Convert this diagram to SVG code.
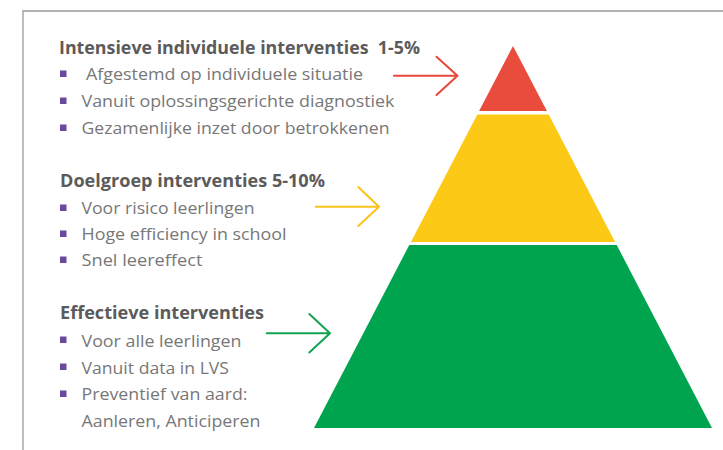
<svg xmlns="http://www.w3.org/2000/svg" width="723" height="450" viewBox="0 0 723 450">
  <style>
    .frame { fill: none; stroke: #9a9a9a; stroke-width: 1.3; }
    .title { font-family: "Open Sans", "Noto Sans", "Liberation Sans", sans-serif; font-weight: 700; font-size: 17px; fill: #5b5b5b; white-space: pre; }
    .item { font-family: "Open Sans", "Noto Sans", "Liberation Sans", sans-serif; font-weight: 400; font-size: 17px; fill: #777777; }
    .bullet { fill: #6a4a9e; }
    .arrow { fill: none; stroke-width: 2; stroke-linecap: round; stroke-linejoin: round; }
  </style>

  <rect width="723" height="450" fill="#ffffff"/>
  <!-- open frame: top and left edges only -->
  <path class="frame" d="M723,11 H23 V450"/>

  <!-- pyramid levels -->
  <g id="level-top">
    <polygon points="513,46 546.9,111 479.1,111" fill="#e94b3c"/>
  </g>
  <g id="level-middle">
    <polygon points="477.3,114.5 548.7,114.5 615.1,242 410.9,242" fill="#fdc917"/>
  </g>
  <g id="level-base">
    <polygon points="409.3,245 616.7,245 712,428 314,428" fill="#00a44f"/>
  </g>

  <!-- text blocks -->
  <g id="block-intensive">
    <text class="title" x="59" y="54" textLength="361" lengthAdjust="spacingAndGlyphs" xml:space="preserve">Intensieve individuele interventies  1-5%</text>
    <rect class="bullet" x="60" y="70.5" width="6.5" height="6.5"/>
    <text class="item" x="86" y="80" textLength="277" lengthAdjust="spacingAndGlyphs">Afgestemd op individuele situatie</text>
    <rect class="bullet" x="60" y="97.5" width="6.5" height="6.5"/>
    <text class="item" x="81.5" y="107" textLength="313" lengthAdjust="spacingAndGlyphs">Vanuit oplossingsgerichte diagnostiek</text>
    <rect class="bullet" x="60" y="124.5" width="6.5" height="6.5"/>
    <text class="item" x="81.5" y="134" textLength="308" lengthAdjust="spacingAndGlyphs">Gezamenlijke inzet door betrokkenen</text>
  </g>

  <g id="block-target-group">
    <text class="title" x="60" y="187" textLength="265" lengthAdjust="spacingAndGlyphs">Doelgroep interventies 5-10%</text>
    <rect class="bullet" x="60" y="204.5" width="6.5" height="6.5"/>
    <text class="item" x="81.5" y="214" textLength="173" lengthAdjust="spacingAndGlyphs">Voor risico leerlingen</text>
    <rect class="bullet" x="60" y="230.5" width="6.5" height="6.5"/>
    <text class="item" x="81.5" y="240" textLength="205" lengthAdjust="spacingAndGlyphs">Hoge efficiency in school</text>
    <rect class="bullet" x="60" y="256.5" width="6.5" height="6.5"/>
    <text class="item" x="81.5" y="266" textLength="121" lengthAdjust="spacingAndGlyphs">Snel leereffect</text>
  </g>

  <g id="block-effective">
    <text class="title" x="60" y="319" textLength="204" lengthAdjust="spacingAndGlyphs">Effectieve interventies</text>
    <rect class="bullet" x="60" y="336.5" width="6.5" height="6.5"/>
    <text class="item" x="81.5" y="346.5" textLength="160" lengthAdjust="spacingAndGlyphs">Voor alle leerlingen</text>
    <rect class="bullet" x="60" y="363.5" width="6.5" height="6.5"/>
    <text class="item" x="81.5" y="373.5" textLength="147.5" lengthAdjust="spacingAndGlyphs">Vanuit data in LVS</text>
    <rect class="bullet" x="60" y="390.5" width="6.5" height="6.5"/>
    <text class="item" x="81.5" y="400" textLength="166" lengthAdjust="spacingAndGlyphs">Preventief van aard:</text>
    <text class="item" x="81.5" y="426.5" textLength="179" lengthAdjust="spacingAndGlyphs">Aanleren, Anticiperen</text>
  </g>

  <!-- arrows pointing at the pyramid levels -->
  <g id="connectors">
    <path class="arrow" stroke="#e8473a" d="M394,75.7 H457.5 M436.5,56.7 L457.5,75.7 L436.5,95"/>
    <path class="arrow" stroke="#fbc31a" d="M315.7,206.7 H379 M358.3,187 L379,206.7 L358.3,226"/>
    <path class="arrow" stroke="#12a451" d="M266.7,333.3 H330 M309.3,314 L330,333.3 L309.3,352.5"/>
  </g>
</svg>
